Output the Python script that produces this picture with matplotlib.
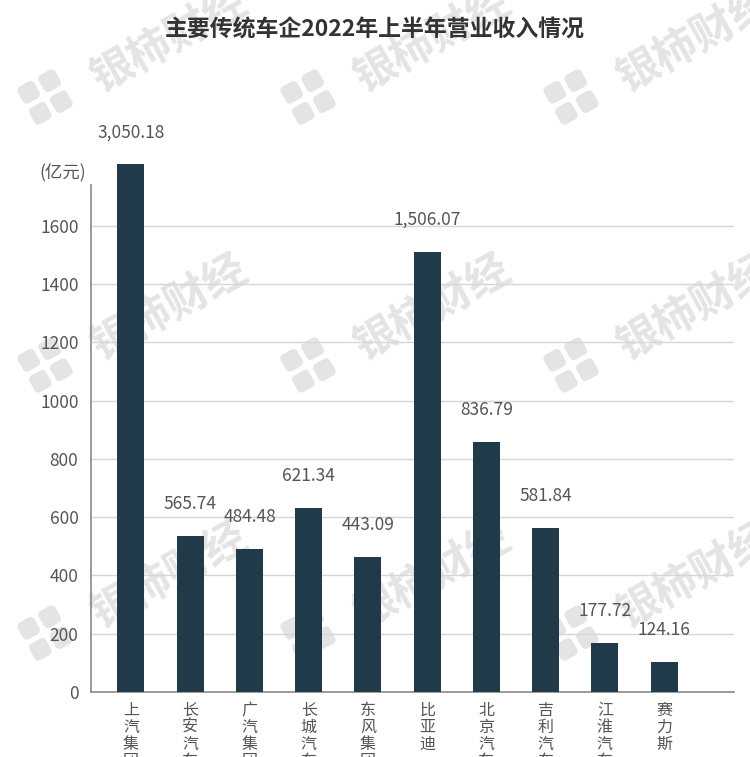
import matplotlib
matplotlib.use('Agg')
import matplotlib.pyplot as plt
import matplotlib.transforms as mtransforms
from matplotlib.patches import FancyBboxPatch
import numpy as np

plt.rcParams['font.family'] = ['Noto Sans CJK SC', 'DejaVu Sans']

# ---------------- data ----------------
companies = ['上汽集团', '长安汽车', '广汽集团', '长城汽车', '东风集团',
             '比亚迪', '北京汽车', '吉利汽车', '江淮汽车', '赛力斯']
bar_heights = [1811, 536, 490, 630, 462, 1510, 859, 562, 169, 104]
bar_labels = ['3,050.18', '565.74', '484.48', '621.34', '443.09',
              '1,506.07', '836.79', '581.84', '177.72', '124.16']
yticks = [0, 200, 400, 600, 800, 1000, 1200, 1400, 1600]
title = '主要传统车企2022年上半年营业收入情况'
unit = '(亿元)'
watermark = '银柿财经'

W, H = 750, 757
fig = plt.figure(figsize=(W / 100, H / 100), dpi=100)
fig.patch.set_facecolor('white')

# ---------------- watermark (behind everything) ----------------
wm_color = '#e4e4e4'
for j in range(3):
    for k in range(4):
        lx = 45 + 263 * k
        ly = 97 + 268 * j
        fig.text((lx + 125) / W, 1 - (ly - 57) / H, watermark, rotation=29,
                 fontsize=31, fontweight='bold', color=wm_color,
                 ha='center', va='center', zorder=-2)
        ang = np.deg2rad(29)
        for (dx, dy) in [(-12, -12), (12, -12), (-12, 12), (12, 12)]:
            rx = dx * np.cos(ang) - dy * np.sin(ang)
            ry = dx * np.sin(ang) + dy * np.cos(ang)
            cx, cy = lx + rx, H - ly + ry
            size = 19
            tr = mtransforms.Affine2D().rotate_deg_around(cx, cy, 29)
            p = FancyBboxPatch((cx - size / 2, cy - size / 2), size, size,
                               boxstyle='round,pad=0,rounding_size=5',
                               facecolor=wm_color, edgecolor='none',
                               transform=tr, zorder=-2)
            fig.patches.append(p)

# ---------------- axes ----------------
ax = fig.add_axes([91 / W, 1 - 692 / H, (734 - 91) / W, (692 - 185) / H])
ax.patch.set_alpha(0)

x = np.arange(len(companies))
ax.bar(x, bar_heights, width=0.456, color='#213a4a', zorder=3, clip_on=False)
ax.set_xlim(-0.675, 10.18)
ax.set_ylim(0, 1740)

for xi, h, lab in zip(x, bar_heights, bar_labels):
    ax.annotate(lab, (xi, h), xytext=(0, 23), textcoords='offset points',
                ha='center', va='center', fontsize=12.5, color='#555555',
                annotation_clip=False)

ax.set_yticks(yticks)
ax.set_yticklabels([str(v) for v in yticks])
ax.tick_params(axis='y', length=0, pad=9, labelsize=12.5, labelcolor='#555555')
ax.yaxis.grid(True, color='#d6d6d6', linewidth=1)
ax.set_axisbelow(True)

ax.set_xticks(x)
ax.set_xticklabels(['\n'.join(c) for c in companies], fontsize=11.5,
                   linespacing=1.0, color='#555555')
ax.tick_params(axis='x', length=0, pad=7)

for s in ['top', 'right']:
    ax.spines[s].set_visible(False)
for s in ['left', 'bottom']:
    ax.spines[s].set_color('#8a8a8a')
    ax.spines[s].set_linewidth(1.2)

fig.text(86 / W, 1 - 173 / H, unit, ha='right', va='center',
         fontsize=12.5, color='#555555')
fig.text(375 / W, 1 - 30 / H, title, ha='center', va='center',
         fontsize=16.5, fontweight='bold', color='#333333')

fig.savefig('out.png', dpi=100)
